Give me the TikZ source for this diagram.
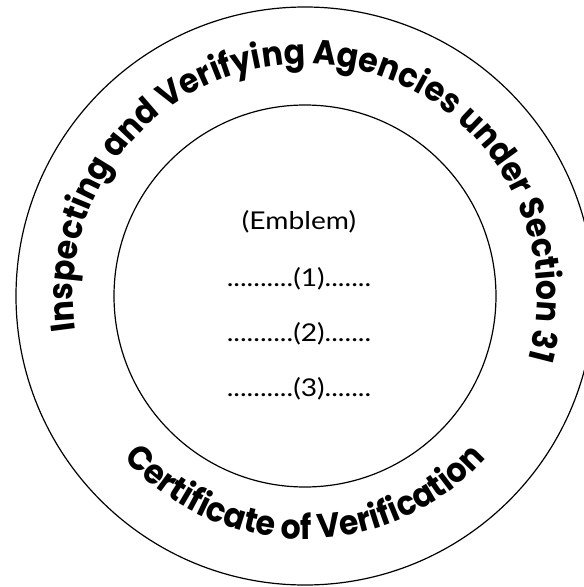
\documentclass[tikz,border=0pt]{standalone}
\usepackage{fontspec}
\usetikzlibrary{decorations.text}
\newfontfamily\arcfont[FakeStretch=0.93]{Poppins}
\newfontfamily\innerfont[FakeStretch=1.15]{Lato}
\begin{document}
\begin{tikzpicture}[x=1pt,y=1pt,
  ring/.style={circle, draw, line width=1.2pt, inner sep=0pt},
  innertext/.style={font=\innerfont\fontsize{24.5}{24.5}\selectfont, inner sep=0pt},
  arctext/.style={decorate, decoration={text along path, text align=center, text={#1}}}
]
\useasboundingbox (-305,-291) rectangle (279,296);
\node[ring, minimum size=578pt] (outer) at (0,0) {};
\node[ring, minimum size=382pt] (inner) at (0,0) {};
\node[innertext] (emblem) at (-6,74) {(Emblem)};
\node[innertext] (l1) at (-6,17) {..........(1).......};
\node[innertext] (l2) at (-6,-38) {..........(2).......};
\node[innertext] (l3) at (-6,-93) {..........(3).......};
\path[arctext={|\arcfont\bfseries\fontsize{34}{34}\selectfont|Inspecting and Verifying Agencies under Section 31}]
  (216.4:232) arc[start angle=216.4, end angle=-43.6, radius=232];
\path[arctext={|\arcfont\bfseries\fontsize{34}{34}\selectfont|Certificate of Verification}]
  (180:243) arc[start angle=180, end angle=360, radius=243];
\end{tikzpicture}
\end{document}
